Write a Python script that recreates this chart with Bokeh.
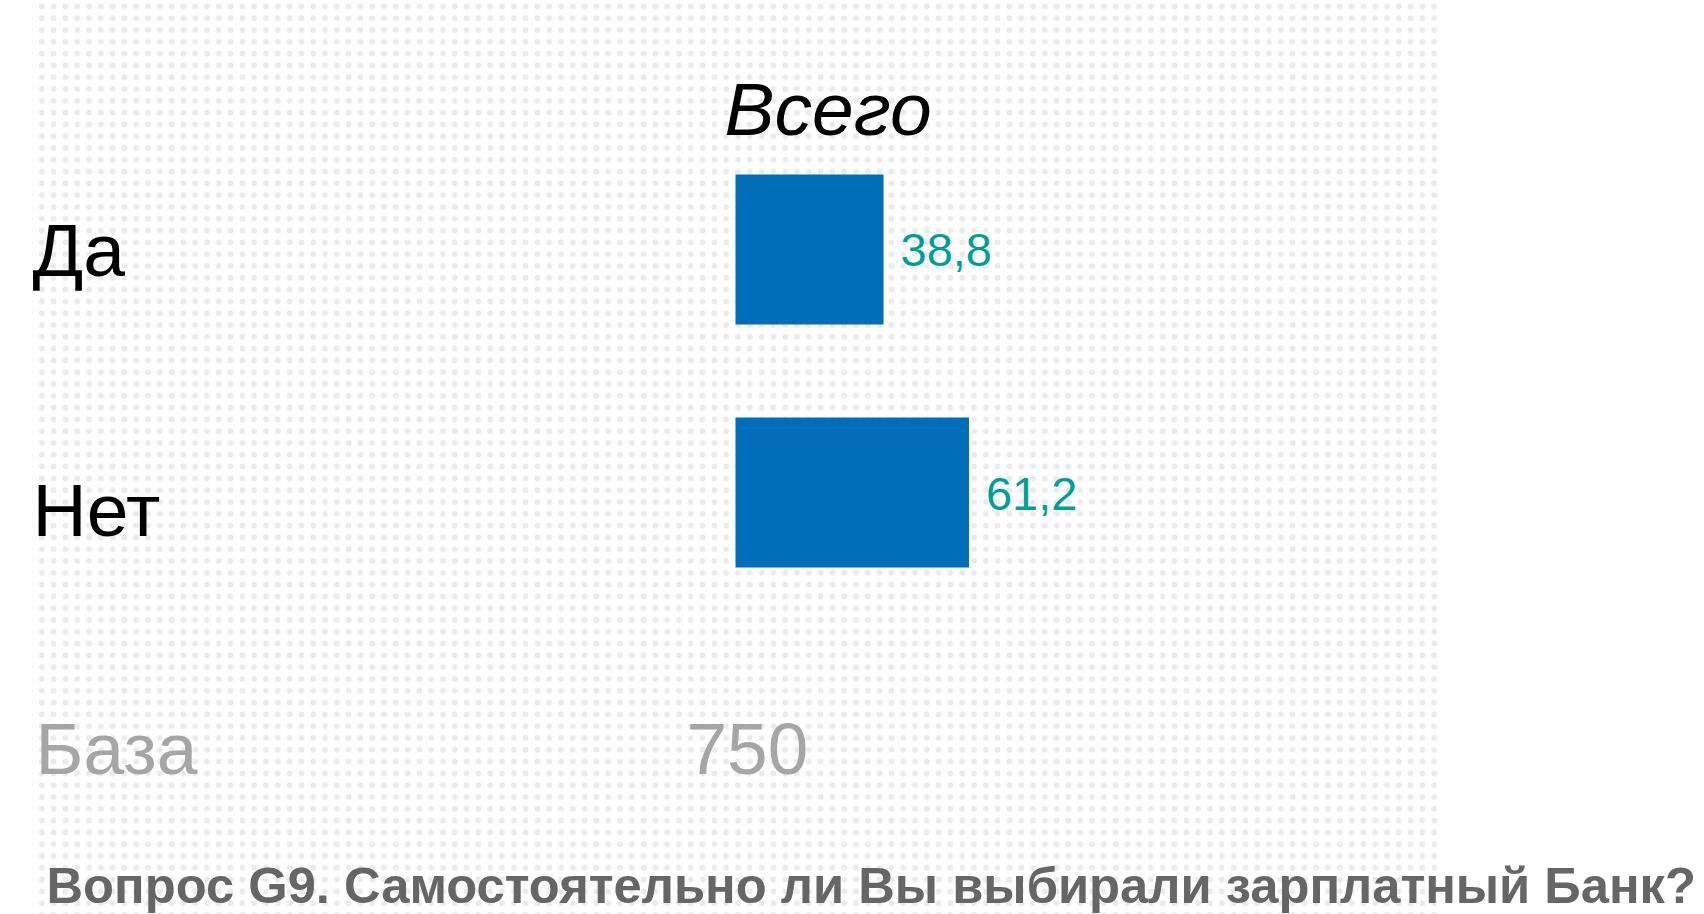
from bokeh.plotting import figure
from bokeh.models import Range1d, ColumnDataSource, Label, BoxAnnotation
from bokeh.core.properties import value
from bokeh.embed import file_html
from bokeh.resources import INLINE

# ---- data ----
categories = ["Да", "Нет"]
values = [38.8, 61.2]
value_labels = ["38,8", "61,2"]
column_title = "Всего"
base_label = "База"
base_value = "750"
question = "Вопрос G9. Самостоятельно ли Вы выбирали зарплатный Банк?"

W, H = 1704, 914
PX_PER_UNIT = 3.815
BAR_LEFT = 735          # px from left where value 0 sits
ROW0 = 249              # px from top for first row centre
ROW_STEP = 243          # px between rows

x_start = -BAR_LEFT / PX_PER_UNIT
x_end = (W - BAR_LEFT) / PX_PER_UNIT
y_top = -ROW0 / ROW_STEP
y_bottom = (H - ROW0) / ROW_STEP

p = figure(width=W, height=H, output_backend="svg", toolbar_location=None,
           x_range=Range1d(x_start, x_end), y_range=Range1d(y_bottom, y_top),
           min_border=0, outline_line_color=None)
p.axis.visible = False
p.grid.visible = False
p.background_fill_color = "white"
p.border_fill_color = "white"

# dotted backdrop
p.add_layout(BoxAnnotation(left=32, right=1437, bottom=0, top=H,
                           left_units="screen", right_units="screen",
                           bottom_units="screen", top_units="screen",
                           fill_color=None, fill_alpha=0, line_color=None,
                           hatch_pattern="dot", hatch_scale=11.8, hatch_weight=1.4,
                           hatch_color="#ebebeb", level="underlay"))

ys = list(range(len(categories)))
src = ColumnDataSource(dict(y=ys, v=values, lab=value_labels, cat=categories,
                            voff=[0, 1], coff=[0, 17]))

p.hbar(y="y", left=0, right="v", height=150 / ROW_STEP, source=src,
       fill_color="#006EB9", line_color=None)

FONT = value("Liberation Sans")

# value labels
p.text(x="v", y="y", text="lab", source=src, x_offset=17, y_offset="voff",
       text_font=FONT, text_font_size="47px", text_color="#00A099",
       text_baseline="alphabetic", text_align="left")

# category labels
p.text(x=x_start + 32 / PX_PER_UNIT, y="y", text="cat", source=src,
       y_offset="coff", text_font=FONT, text_font_size="75px",
       text_color="black", text_baseline="alphabetic", text_align="left")

# header
p.add_layout(Label(x=724, y=806, x_units="screen", y_units="screen",
                   text=column_title, text_font="Liberation Sans",
                   text_font_style="italic", text_font_size="75px",
                   text_color="black", text_baseline="alphabetic"))

# base row
p.add_layout(Label(x=35, y=166, x_units="screen", y_units="screen",
                   text=base_label, text_font="Liberation Sans",
                   text_font_size="73px", text_color="#A6A6A6",
                   text_baseline="alphabetic"))
p.add_layout(Label(x=686, y=166, x_units="screen", y_units="screen",
                   text=base_value, text_font="Liberation Sans",
                   text_font_size="73px", text_color="#A6A6A6",
                   text_baseline="alphabetic"))

# question
p.add_layout(Label(x=46, y=29, x_units="screen", y_units="screen",
                   text=question, text_font="Liberation Sans",
                   text_font_style="bold", text_font_size="50.7px",
                   text_color="#666666", text_baseline="alphabetic"))

open("out.html", "w").write(file_html(p, INLINE))
